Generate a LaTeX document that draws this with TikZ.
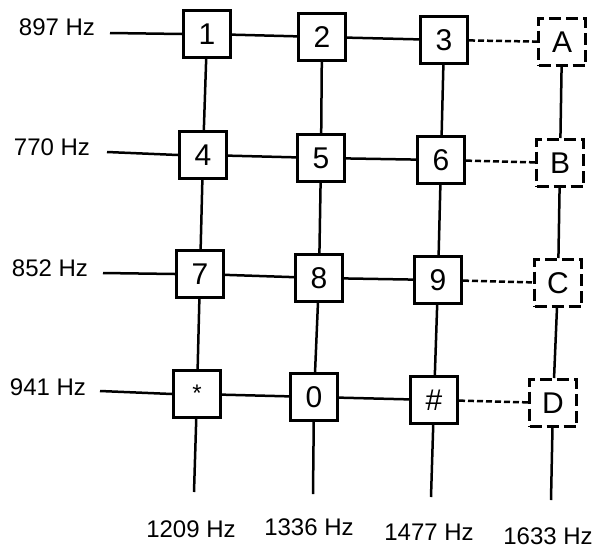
\documentclass[tikz,border=0pt]{standalone}
\usepackage{fontspec}
\setmainfont{Liberation Sans}
\begin{document}
\begin{tikzpicture}[x=1pt,y=-1pt,
  key/.style={draw=black, line width=3pt, minimum size=47pt, inner sep=0pt,
    font=\fontsize{30}{32}\selectfont, text height=21.5pt, text depth=0pt},
  dkey/.style={key, dash pattern=on 12pt off 5pt},
  star/.style={key, font=\fontsize{24}{26}\selectfont, text height=15pt},
  freq/.style={font=\fontsize{24}{26}\selectfont, inner sep=0pt},
  wire/.style={line width=2.5pt},
  dwire/.style={line width=2.5pt, dash pattern=on 6pt off 3pt}]
\useasboundingbox (0,0) rectangle (596,552);
% keys
\node[key]  (k11) at (207,34)  {1};
\node[key]  (k12) at (322,37)  {2};
\node[key]  (k13) at (444,40)  {3};
\node[dkey] (k14) at (562,42)  {A};
\node[key]  (k21) at (203,155) {4};
\node[key]  (k22) at (321,158) {5};
\node[key]  (k23) at (441,160) {6};
\node[dkey] (k24) at (560,163) {B};
\node[key]  (k31) at (200,274) {7};
\node[key]  (k32) at (319,278) {8};
\node[key]  (k33) at (438,280) {9};
\node[dkey] (k34) at (558,283) {C};
\node[star] (k41) at (197,394) {*};
\node[key]  (k42) at (314,397) {0};
\node[key]  (k43) at (434,400) {\#};
\node[dkey] (k44) at (553,403) {D};
% row labels
\node[freq] (r1) at (57,27)  {897 Hz};
\node[freq] (r2) at (52,147) {770 Hz};
\node[freq] (r3) at (50,268) {852 Hz};
\node[freq] (r4) at (48,387) {941 Hz};
\coordinate (s1) at (110,33);
\coordinate (s2) at (107,152);
\coordinate (s3) at (103,273);
\coordinate (s4) at (100,391);
% column labels
\node[freq] (c1) at (191,529) {1209 Hz};
\node[freq] (c2) at (309,527) {1336 Hz};
\node[freq] (c3) at (429,532) {1477 Hz};
\node[freq] (c4) at (548,536) {1633 Hz};
\coordinate (e1) at (194,492);
\coordinate (e2) at (313,494);
\coordinate (e3) at (431,497);
\coordinate (e4) at (551,500);
% row wires
\foreach \r in {1,2,3,4}{
  \draw[wire] (s\r) -- (k\r1.west);
  \draw[wire] (k\r1) -- (k\r2);
  \draw[wire] (k\r2) -- (k\r3);
  \draw[dwire] (k\r3) -- (k\r4);
}
% column wires
\foreach \c in {1,2,3,4}{
  \draw[wire] (k1\c) -- (k2\c);
  \draw[wire] (k2\c) -- (k3\c);
  \draw[wire] (k3\c) -- (k4\c);
  \draw[wire] (k4\c) -- (e\c);
}
\end{tikzpicture}
\end{document}
